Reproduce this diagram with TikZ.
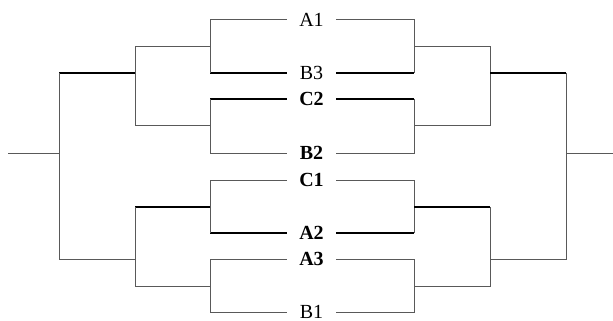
\documentclass[tikz,border=0pt]{standalone}
\usepackage{fontspec}
\setmainfont{Liberation Serif}
\usetikzlibrary{positioning}

\begin{document}
\begin{tikzpicture}[
    x=0.5pt, y=-0.5pt,
    % --- Line styles ---
    link/.style = {line width=0.5pt, draw=black!65},
    win/.style = {line width=0.8pt, draw=black},
    % --- Label styles ---
    team/.style = {inner sep=0pt, minimum width=24.5pt,
        font=\fontsize{10}{10}\selectfont},
    lead/.style = {team, font=\fontsize{10}{10}\selectfont\bfseries}
]
\useasboundingbox (0,0) rectangle (613,320);

% ==================== LABELS ====================
\node[team] (a1) at (311.5,20) {A1};
\node[team] (b3) at (311.5,73) {B3};
\node[lead] (c2) at (311.5,99) {C2};
\node[lead] (b2) at (311.5,153) {B2};
\node[lead] (c1) at (311.5,180) {C1};
\node[lead] (a2) at (311.5,233) {A2};
\node[lead] (a3) at (311.5,259) {A3};
\node[team] (b1) at (311.5,312) {B1};

% ==================== JOINS ====================
% left side
\coordinate (ql1) at (210,47);
\coordinate (ql2) at (210,126);
\coordinate (ql3) at (210,207);
\coordinate (ql4) at (210,286);
\coordinate (sl1) at (135,73);
\coordinate (sl2) at (135,259);
\coordinate (fl) at (59,153);
\coordinate (inl) at (8,153);
% right side
\coordinate (qr1) at (414,47);
\coordinate (qr2) at (414,126);
\coordinate (qr3) at (414,207);
\coordinate (qr4) at (414,286);
\coordinate (sr1) at (490,73);
\coordinate (sr2) at (490,259);
\coordinate (fr) at (566,153);
\coordinate (outr) at (613,153);

% ==================== LEFT BRACKET ====================
\draw[link] (a1.west) -| (ql1);
\draw[win] (b3.west) -- (b3.west -| ql1);
\draw[link] (b3.west -| ql1) -- (ql1);
\draw[win] (c2.west) -- (c2.west -| ql2);
\draw[link] (c2.west -| ql2) -- (ql2);
\draw[link] (b2.west) -| (ql2);
\draw[link] (c1.west) -| (ql3);
\draw[win] (a2.west) -- (a2.west -| ql3);
\draw[link] (a2.west -| ql3) -- (ql3);
\draw[link] (a3.west) -| (ql4);
\draw[link] (b1.west) -| (ql4);

\draw[link] (ql1) -| (sl1);
\draw[link] (ql2) -| (sl1);
\draw[win] (ql3) -- (ql3 -| sl2);
\draw[link] (ql3 -| sl2) -- (sl2);
\draw[link] (ql4) -| (sl2);

\draw[win] (sl1) -- (sl1 -| fl);
\draw[link] (sl1 -| fl) -- (fl);
\draw[link] (sl2) -| (fl);
\draw[link] (fl) -- (inl);

% ==================== RIGHT BRACKET ====================
\draw[link] (a1.east) -| (qr1);
\draw[win] (b3.east) -- (b3.east -| qr1);
\draw[link] (b3.east -| qr1) -- (qr1);
\draw[win] (c2.east) -- (c2.east -| qr2);
\draw[link] (c2.east -| qr2) -- (qr2);
\draw[link] (b2.east) -| (qr2);
\draw[link] (c1.east) -| (qr3);
\draw[win] (a2.east) -- (a2.east -| qr3);
\draw[link] (a2.east -| qr3) -- (qr3);
\draw[link] (a3.east) -| (qr4);
\draw[link] (b1.east) -| (qr4);

\draw[link] (qr1) -| (sr1);
\draw[link] (qr2) -| (sr1);
\draw[win] (qr3) -- (qr3 -| sr2);
\draw[link] (qr3 -| sr2) -- (sr2);
\draw[link] (qr4) -| (sr2);

\draw[win] (sr1) -- (sr1 -| fr);
\draw[link] (sr1 -| fr) -- (fr);
\draw[link] (sr2) -| (fr);
\draw[link] (fr) -- (outr);

\end{tikzpicture}
\end{document}
